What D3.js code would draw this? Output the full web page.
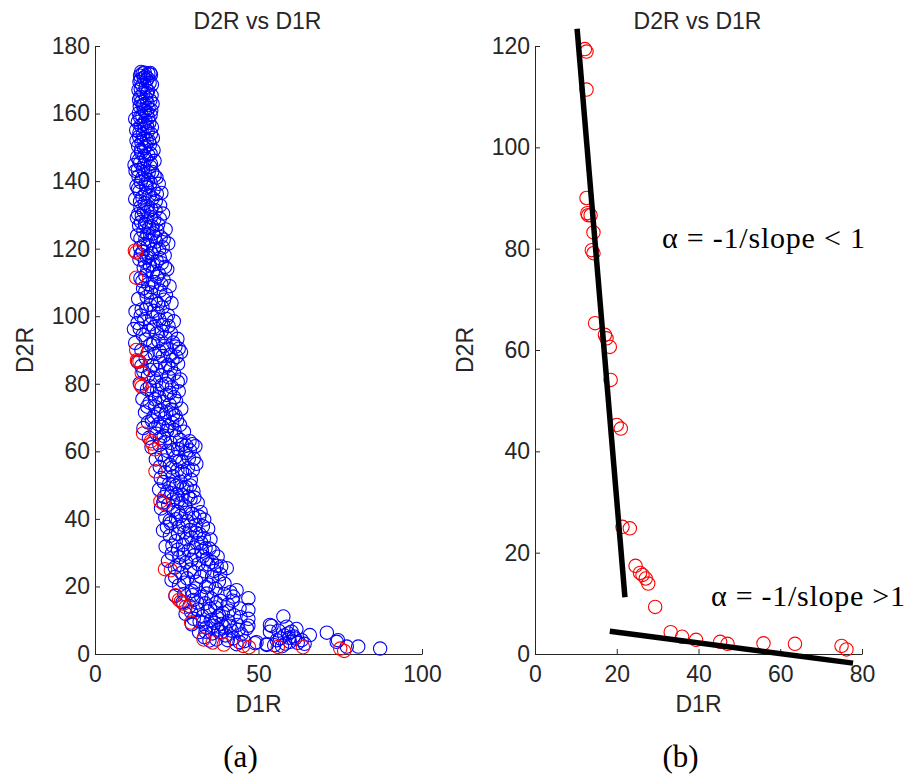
<!DOCTYPE html>
<html>
<head>
<meta charset="utf-8">
<script src="https://cdn.jsdelivr.net/npm/d3@7"></script>
<style>
  body { margin: 0; background: #fff; }
  svg { display: block; }
  .tick text { font-family: Arial, "Liberation Sans", sans-serif; font-size: 23px; fill: #262626; }
  .domain, .tick line { stroke: #262626; stroke-width: 1; }
</style>
</head>
<body>
<svg id="fig"></svg>
<script>
// Data (D1R, D2R)
let bluePoints = [
  [14.1,172.3],[15.2,172.1],[16.3,171.8],[13.8,171.2],[17.1,171.5],[14.9,170.6],[15.8,169.9],[13.6,169.4],[16.7,169.1],[14.4,168.3],
  [15.5,167.8],[13.3,167.0],[16.2,166.7],[14.8,166.1],[17.3,165.4],[13.9,165.0],[15.6,164.6],[16.9,163.9],[14.2,163.5],[15.1,162.8],
  [17.6,162.9],[13.7,162.1],[16.4,161.6],[14.9,161.0],[15.9,160.3],[13.4,160.1],[17.0,159.6],[14.5,159.2],[12.3,158.4],[15.4,158.0],
  [16.6,157.3],[13.1,157.5],[14.0,156.4],[17.4,156.0],[15.2,155.6],[12.6,155.1],[16.1,154.7],[14.6,153.9],[13.5,153.2],[17.7,152.8],
  [15.8,152.1],[14.2,151.4],[16.8,150.9],[13.2,150.3],[15.0,149.8],
  [14.6,171.9],[16.9,172.0],[15.5,171.0],[13.9,170.1],[16.1,170.4],[17.4,168.6],[14.0,167.3],[15.9,166.0],[13.5,164.1],[16.0,163.2],
  [14.6,162.4],[17.2,161.0],[15.3,160.7],[13.8,158.9],[16.3,158.7],[14.9,157.0],[15.9,156.2],[13.6,154.5],[17.1,154.0],[14.8,152.6],
  [16.5,151.9],[15.5,150.4],[12.7,152.0],[14.0,149.2],[17.0,148.1],
  [17.9,149.2],[14.1,148.5],[16.3,147.8],[12.9,147.1],[15.6,146.6],[18.2,146.0],[13.8,145.4],[12.1,144.8],[16.9,144.3],[14.7,143.6],
  [12.4,143.0],[17.5,142.7],[15.3,142.1],[13.3,141.4],[18.8,141.0],[16.2,140.3],[14.0,139.7],[19.5,139.2],[12.7,138.6],[15.8,138.1],
  [17.9,137.4],[13.6,136.9],[20.3,136.5],[16.7,135.8],[14.5,135.2],[12.3,134.7],[18.6,134.1],[15.2,133.5],[19.9,132.8],[13.9,132.3],
  [17.2,131.6],[16.0,130.9],[20.8,130.4],[14.3,129.8],[12.8,129.2],[18.1,128.6],[15.7,128.0],[19.3,127.3],[13.5,126.8],[16.6,126.2],
  [21.6,125.7],[14.8,125.1],[17.8,124.5],[12.9,123.9],[20.1,123.4],[15.4,122.8],[18.7,122.1],[22.4,121.5],[16.2,121.0],[13.8,120.3],
  [19.6,119.8],[14.6,119.1],[17.3,118.6],[21.3,118.0],[15.9,117.4],
  [15.1,147.4],[13.4,146.2],[17.1,145.1],[15.0,144.7],[13.1,143.3],[16.4,142.5],[18.2,141.6],[14.4,140.8],[17.0,139.5],[15.5,139.0],
  [13.2,137.8],[18.9,136.2],[15.4,136.4],[17.6,134.9],[13.8,134.0],[16.1,132.5],[18.5,131.3],[14.9,131.0],[13.2,130.2],[17.1,129.4],
  [19.8,128.9],[15.3,127.2],[17.4,126.6],[14.1,127.9],[19.0,125.4],[16.0,124.2],[13.9,123.0],[18.3,123.5],[21.0,122.7],[16.9,122.4],
  [15.0,121.1],[20.7,120.4],[18.0,119.8],[14.0,118.2],[16.4,117.9],
  [13.6,116.8],[18.9,116.3],[20.4,115.7],[16.8,115.0],[14.9,114.4],[22.1,113.9],[17.7,113.2],[19.5,112.6],[15.4,112.0],[13.9,111.3],
  [21.0,110.7],[18.2,110.1],[16.3,109.5],[22.8,108.9],[14.7,108.2],[19.9,107.6],[17.1,107.0],[21.7,106.3],[15.8,105.7],[13.2,105.1],
  [18.6,104.5],[23.4,103.9],[16.9,103.3],[20.6,102.6],[14.3,102.0],[12.4,101.4],[19.2,100.9],[22.3,100.3],[17.5,99.7],[15.1,99.1],
  [24.1,98.5],[13.0,98.0],[20.9,97.4],[18.0,96.8],[11.9,96.2],[16.4,95.7],[23.2,95.1],[14.6,94.5],[21.5,93.8],[25.2,93.3],
  [19.8,117.2],[15.3,116.1],[17.8,115.3],[21.4,114.6],[16.0,113.5],[18.9,111.7],[14.5,110.4],[20.3,109.4],[17.4,108.6],[15.4,107.3],
  [21.1,104.9],[19.3,103.6],[15.7,102.3],[17.9,101.6],[21.8,99.2],[14.0,100.2],[19.7,98.9],[16.9,97.6],[22.5,97.1],[13.7,96.3],
  [18.9,94.9],[20.4,95.6],[15.5,93.1],[23.9,92.2],[17.8,91.9],[21.1,91.2],
  [19.4,92.7],[12.3,92.1],[16.9,91.6],[24.6,91.0],[22.0,90.4],[14.2,89.9],[26.3,89.4],[18.3,88.8],[20.7,88.2],[15.5,87.6],
  [23.7,87.0],[13.1,86.5],[25.4,85.9],[17.6,85.4],[21.4,84.8],[19.0,84.1],[14.8,83.6],[24.2,83.0],[16.2,82.4],[22.6,81.9],
  [26.1,81.3],[18.7,80.7],[13.7,80.1],[20.5,79.6],[23.5,79.0],[15.9,78.4],[25.6,77.8],[17.4,77.2],[21.9,76.7],[19.6,76.1],
  [14.5,75.5],[24.8,74.9],[16.7,74.4],[22.8,73.8],[18.4,73.2],[26.4,72.6],[20.2,72.1],[15.3,71.5],[23.9,70.9],[17.9,70.3],
  [21.3,69.8],[25.1,69.2],[16.2,68.6],[19.4,68.0],[22.5,67.5],
  [25.6,90.4],[19.7,89.6],[16.1,89.1],[23.1,88.6],[24.9,88.0],[14.2,85.3],[19.9,86.4],[22.4,85.6],[16.8,84.1],[23.2,84.5],
  [20.2,82.5],[18.0,81.8],[25.3,80.6],[21.8,80.0],[16.8,79.3],[19.0,78.1],[22.9,77.3],[24.2,76.0],[18.4,75.4],[20.9,74.6],
  [16.0,73.2],[23.4,72.4],[19.3,71.0],[24.6,70.6],[21.8,71.6],[17.4,69.1],[20.6,67.2],[23.6,68.4],[26.0,67.8],[18.2,66.8],
  [14.8,66.9],[24.3,66.3],[27.2,65.8],[18.8,65.2],[21.0,64.6],[16.5,64.0],[26.0,63.4],[28.9,63.0],[23.1,62.5],[29.8,62.1],
  [19.7,61.9],[30.7,61.5],[17.3,61.2],[25.4,60.7],[22.2,60.1],[27.8,59.5],[20.4,58.9],[30.2,57.8],[24.6,58.3],[18.6,57.6],
  [26.7,56.9],[31.0,56.3],[22.9,56.0],[19.8,55.4],[28.4,55.0],[25.2,54.4],[21.5,53.8],[27.5,53.2],[23.8,52.6],[20.1,52.1],
  [29.3,51.6],[26.1,51.0],[22.7,50.4],[24.9,49.8],[28.0,49.3],[19.6,48.7],[30.1,48.2],[23.4,47.6],[26.8,47.0],[21.2,46.5],
  [29.2,45.9],[25.3,45.3],[31.4,44.8],[22.4,44.2],[27.6,43.7],
  [22.0,66.1],[19.9,63.9],[24.9,64.4],[27.9,61.7],[21.4,62.8],[23.8,60.4],[26.6,61.9],[29.0,60.3],[21.3,57.3],[25.8,57.1],
  [28.7,57.9],[23.6,55.2],[26.6,54.0],[29.9,54.4],[21.0,50.9],[24.0,50.2],[27.0,49.1],[29.1,49.9],[22.1,48.1],[25.1,47.2],
  [28.5,46.6],[23.8,45.7],[26.4,44.6],[30.4,46.3],[20.9,44.9],
  [20.2,43.1],[24.0,42.6],[32.3,42.0],[29.7,41.5],[26.2,40.9],[21.5,40.4],[33.4,39.8],[28.3,39.3],[23.1,38.7],[30.8,38.2],
  [25.6,37.6],[34.6,37.1],[20.8,36.6],[27.4,36.0],[32.0,35.5],[22.9,35.0],[29.5,34.4],[35.3,33.9],[24.7,33.4],[31.2,32.8],
  [26.9,32.3],[21.6,31.8],[33.8,31.3],[28.6,30.7],[36.1,30.2],[23.5,29.7],[30.4,29.2],[25.8,28.6],[34.2,28.1],[32.7,30.5],
  [35.0,31.2],[22.3,27.6],[27.9,27.1],[31.6,26.6],[37.2,26.1],[24.4,25.6],[29.1,25.0],[33.5,24.5],[26.5,24.0],[38.3,23.6],
  [35.8,22.9],[28.2,22.4],[23.4,21.9],[31.0,21.4],[39.6,20.8],[25.7,20.3],[33.9,19.8],[36.9,19.3],[29.6,18.7],[41.4,18.3],
  [40.3,25.4],[37.5,28.8],[38.6,25.9],
  [25.3,42.1],[27.8,41.8],[30.4,40.3],[22.9,39.5],[24.8,39.9],[31.9,40.6],[27.0,38.2],[33.0,37.8],[22.0,37.6],[29.0,36.7],
  [30.9,35.9],[25.4,35.6],[33.3,34.3],[27.9,34.0],[23.7,32.1],[30.2,31.5],[32.5,32.9],[25.4,30.9],[27.1,29.4],[33.0,28.9],
  [29.5,27.9],[35.8,27.2],[25.8,26.4],[30.3,24.2],[32.4,22.8],[27.3,21.1],[34.8,20.5],[37.9,21.6],[30.7,19.4],[24.5,22.8],
  [36.5,24.6],[34.6,26.5],
  [27.3,17.8],[24.6,17.2],[32.5,16.9],[43.3,18.9],[42.3,17.0],[35.6,16.4],[30.1,16.0],[38.4,15.7],[46.9,16.5],[26.8,15.3],
  [33.7,15.0],[40.6,14.6],[28.9,14.2],[36.8,13.8],[44.2,13.5],[31.4,13.1],[46.9,13.0],[34.5,12.6],[39.1,12.2],[27.7,11.9],
  [42.5,11.5],[32.9,11.1],[37.3,10.8],[46.9,10.4],[30.2,10.4],[35.4,10.0],[40.8,9.7],[33.1,9.3],[38.7,8.9],[46.9,8.4],
  [29.6,8.8],[36.2,8.4],[43.6,8.6],[39.3,8.1],[34.0,7.8],[46.4,7.6],[37.7,7.2],[41.8,6.9],[31.8,6.5],[35.9,6.1],
  [44.8,5.8],[39.9,5.5],[33.4,5.0],[42.4,4.6],[37.1,4.3],[45.7,3.8],[49.4,3.5],[48.9,3.2],[43.3,2.9],[52.5,2.9],
  [29.8,17.4],[34.2,17.9],[39.6,17.7],[31.2,15.2],[37.1,15.1],[42.1,15.8],[35.2,13.4],[41.0,12.8],[29.4,12.5],[38.0,11.3],
  [44.5,10.9],[32.0,9.6],[36.6,9.2],[41.2,8.4],[43.9,7.2],[38.6,6.5],[33.8,6.6],[40.6,4.1],[35.0,4.0],[44.2,3.5],
  [57.6,11.1],[53.5,8.6],[54.0,8.3],[58.6,8.1],[53.5,6.6],[59.1,6.1],[60.1,6.6],[56.6,4.6],[55.6,4.1],[61.2,4.6],
  [59.6,3.6],[63.2,4.1],[65.7,5.6],[52.5,2.7],[70.9,6.3],[73.9,3.6],[74.3,4.1],[80.5,2.2],[87.2,1.6],[77.0,2.2],
  [57.9,5.5],[60.8,5.2],[58.2,3.1],[62.0,3.3],[56.1,6.9],[54.8,2.6],[61.6,7.4],[59.4,4.8],[57.2,2.3],[64.1,3.0]
];

let redPoints = [
  [12.2,119.4],[12.6,118.9],[12.6,111.4],[12.6,90.0],[13.0,86.6],[13.6,86.6],[12.8,87.0],[14.3,83.2],[13.9,79.7],[14.3,79.1],
  [14.7,65.3],[17.1,63.0],[17.5,62.3],[18.3,60.6],[18.5,54.1],[20.0,45.2],[21.0,44.5],[21.4,25.1],[23.2,24.8],[24.6,17.4],
  [25.7,16.0],[26.3,15.6],[27.1,14.9],[27.7,13.9],[29.4,9.3],[33.2,4.3],[36.0,3.4],[39.4,2.8],[45.3,2.4],[47.1,2.0],
  [55.9,2.1],[63.6,2.0],[75.0,1.6],[76.2,0.9]
];

// fitted lines in panel (b)
let steepLine = [[10.3,123.4],[22.0,11.2]];
let flatLine = [[18.3,4.5],[77.8,-1.8]];

let xTicksA = [0, 50, 100];
let yTicksA = [0, 20, 40, 60, 80, 100, 120, 140, 160, 180];
let xTicksB = [0, 20, 40, 60, 80];
let yTicksB = [0, 20, 40, 60, 80, 100, 120];

// SVG
let width = 914;
let height = 776;
let svg = d3.select("#fig")
    .attr("width", width)
    .attr("height", height);

let sans = 'Arial, "Liberation Sans", sans-serif';
let serif = '"Times New Roman", "Liberation Serif", serif';

function drawPanel(opts) {
    let x = d3.scaleLinear().domain(opts.xDomain).range([opts.left, opts.right]);
    let y = d3.scaleLinear().domain(opts.yDomain).range([654, 46]);

    svg.append("g")
        .attr("transform", "translate(0,654)")
        .call(d3.axisBottom(x).tickValues(opts.xTicks).tickSizeInner(-5).tickSizeOuter(0).tickPadding(12));

    svg.append("g")
        .attr("transform", `translate(${opts.left},0)`)
        .call(d3.axisLeft(y).tickValues(opts.yTicks).tickSizeInner(-5).tickSizeOuter(0).tickPadding(5));

    let cx = (opts.left + opts.right) / 2;

    svg.append("text")
        .attr("x", cx - 1).attr("y", 29)
        .attr("text-anchor", "middle")
        .style("font-family", sans).style("font-size", "23px").attr("fill", "#262626")
        .text("D2R vs D1R");

    svg.append("text")
        .attr("x", cx).attr("y", 712)
        .attr("text-anchor", "middle")
        .style("font-family", sans).style("font-size", "23px").attr("fill", "#262626")
        .text("D1R");

    svg.append("text")
        .attr("transform", `translate(${opts.left - 62},350) rotate(-90)`)
        .attr("text-anchor", "middle")
        .style("font-family", sans).style("font-size", "23px").attr("fill", "#262626")
        .text("D2R");

    svg.append("text")
        .attr("x", cx - 18).attr("y", 767)
        .attr("text-anchor", "middle")
        .style("font-family", serif).style("font-size", "31px").attr("fill", "#000")
        .text(opts.caption);

    return { x, y };
}

function drawCircles(s, data, color) {
    svg.append("g")
        .selectAll("circle")
        .data(data)
        .enter()
        .append("circle")
        .attr("cx", d => s.x(d[0]))
        .attr("cy", d => s.y(d[1]))
        .attr("r", 6.7)
        .attr("fill", "none")
        .attr("stroke", color)
        .attr("stroke-width", 1.1);
}

// Panel (a)
let a = drawPanel({ left: 95, right: 422, xDomain: [0, 100], yDomain: [0, 180],
    xTicks: xTicksA, yTicks: yTicksA, caption: "(a)" });
drawCircles(a, bluePoints, "#0000ff");
drawCircles(a, redPoints, "#ff0000");

// Panel (b)
let b = drawPanel({ left: 535, right: 862, xDomain: [0, 80], yDomain: [0, 120],
    xTicks: xTicksB, yTicks: yTicksB, caption: "(b)" });
drawCircles(b, redPoints, "#ff0000");

let line = d3.line().x(d => b.x(d[0])).y(d => b.y(d[1]));
[steepLine, flatLine].forEach(l => {
    svg.append("path")
        .attr("d", line(l))
        .attr("fill", "none")
        .attr("stroke", "#000")
        .attr("stroke-width", 5.5);
});

// annotations
svg.append("text")
    .attr("x", 662).attr("y", 248)
    .attr("textLength", 203).attr("lengthAdjust", "spacing")
    .style("font-family", serif).style("font-size", "30px").attr("fill", "#000")
    .text("\u03b1 = -1/slope < 1");

svg.append("text")
    .attr("x", 711).attr("y", 606)
    .attr("textLength", 194).attr("lengthAdjust", "spacing")
    .style("font-family", serif).style("font-size", "30px").attr("fill", "#000")
    .text("\u03b1 = -1/slope >1");
</script>
</body>
</html>
